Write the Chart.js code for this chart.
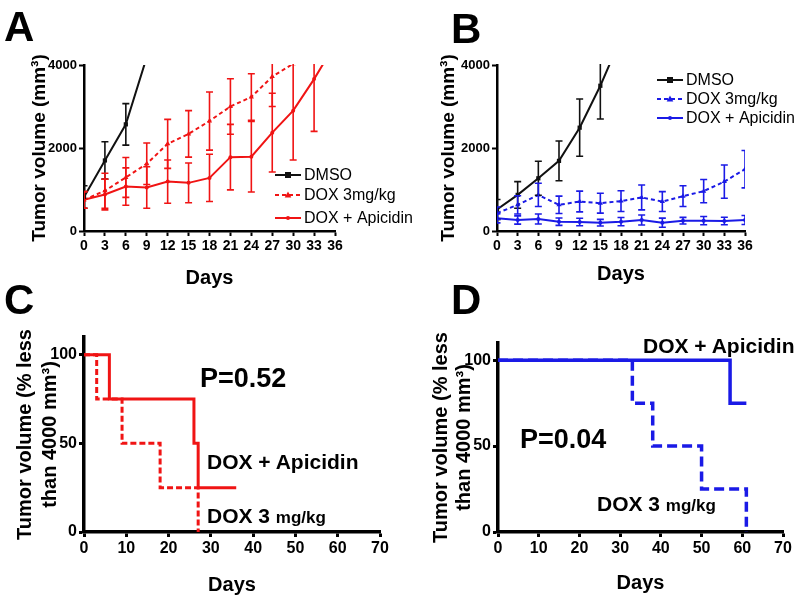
<!DOCTYPE html>
<html>
<head>
<meta charset="utf-8">
<script src="https://cdn.jsdelivr.net/npm/chart.js@4.4.1/dist/chart.umd.min.js"></script>
<style>
  html, body { margin: 0; padding: 0; background: #fff; }
  #wrap { position: relative; width: 800px; height: 599px; overflow: hidden; font-family: "Liberation Sans", Arial, sans-serif; }
  canvas { position: absolute; }
  .lbl { position: absolute; font-weight: bold; color: #000; white-space: nowrap; line-height: 1; }
  .letter { font-size: 42px; }
</style>
</head>
<body>
<div id="wrap">
  <canvas id="cA" width="420" height="260" style="left:0px;top:45px"></canvas>
  <canvas id="cB" width="390" height="260" style="left:410px;top:45px"></canvas>
  <canvas id="cC" width="420" height="299" style="left:0px;top:300px"></canvas>
  <canvas id="cD" width="390" height="299" style="left:410px;top:300px"></canvas>

  <div class="lbl letter" style="left:4px;top:6px">A</div>
  <div class="lbl letter" style="left:451px;top:8px">B</div>
  <div class="lbl letter" style="left:4px;top:279px">C</div>
  <div class="lbl letter" style="left:451px;top:279px">D</div>

  <div class="lbl" style="left:200px;top:365px;font-size:27px">P=0.52</div>
  <div class="lbl" style="left:207px;top:451px;font-size:21px">DOX + Apicidin</div>
  <div class="lbl" style="left:207px;top:505px;font-size:21px">DOX 3 <span style="font-size:17px">mg/kg</span></div>

  <div class="lbl" style="left:643px;top:335px;font-size:21px">DOX + Apicidin</div>
  <div class="lbl" style="left:520px;top:426px;font-size:27px">P=0.04</div>
  <div class="lbl" style="left:597px;top:493px;font-size:21px">DOX 3 <span style="font-size:17px">mg/kg</span></div>
</div>
<script>
// ---------------- data ----------------
const days = [0, 3, 6, 9, 12, 15, 18, 21, 24, 27, 30, 33, 36];

// Panel A (mean tumor volume, mm3) and SEM
const dmsoA      = [820, 1700, 2570, 4190, null, null, null, null, null, null, null, null, null];
const dmsoAErr   = [270, 450, 500, 0, 0, 0, 0, 0, 0, 0, 0, 0, 0];
const doxA       = [750, 970, 1290, 1620, 2100, 2340, 2650, 3000, 3230, 3720, 4030, null, null];
const doxAErr    = [200, 420, 480, 500, 590, 560, 700, 670, 560, 720, 0, 0, 0];
const apiA       = [750, 880, 1070, 1050, 1190, 1160, 1280, 1780, 1790, 2370, 2900, 3660, 4500];
const apiAErr    = [200, 370, 450, 500, 520, 480, 570, 790, 850, 950, 1190, 1260, 0];

// Panel B
const dmsoB      = [520, 870, 1270, 1690, 2490, 3500, 4650, null, null, null, null, null, null];
const dmsoBErr   = [240, 320, 410, 480, 690, 800, 0, 0, 0, 0, 0, 0, 0];
const doxB       = [430, 630, 870, 630, 710, 670, 720, 810, 710, 840, 960, 1190, 1490];
const doxBErr    = [150, 220, 280, 210, 250, 240, 250, 300, 240, 250, 280, 400, 450];
const apiB       = [305, 265, 290, 225, 217, 201, 225, 265, 201, 249, 249, 241, 265];
const apiBErr    = [110, 100, 120, 90, 90, 80, 100, 120, 110, 80, 100, 90, 110];

// Panel C (% tumors < 4000 mm3)
const apiCDays = [0, 6, 26, 27, 36];
const apiCPct  = [100, 75, 50, 25, 25];
const doxCDays = [0, 3, 9, 18, 27];
const doxCPct  = [100, 75, 50, 25, 0];

// Panel D
const apiDDays = [0, 57, 61];
const apiDPct  = [100, 75, 75];
const doxDDays = [0, 33, 38, 50, 61];
const doxDPct  = [100, 75, 50, 25, 0];

const labels = ['DMSO', 'DOX 3mg/kg', 'DOX + Apicidin'];

// ---------------- helpers ----------------
const F = '"Liberation Sans", Arial, sans-serif';
const RED = '#f01414';
const BLUE = '#1a1ae6';
const BLACK = '#111111';

function pts(xs, ys, es) {
  const out = [];
  xs.forEach((d, i) => {
    if (ys[i] === null || ys[i] === undefined) return;
    out.push({ x: d, y: ys[i], e: es ? es[i] : 0 });
  });
  return out;
}

const errorBars = {
  id: 'errorBars',
  afterDatasetsDraw(chart) {
    const { ctx, chartArea: a, scales } = chart;
    const x = scales.x, y = scales.y;
    ctx.save();
    ctx.beginPath();
    ctx.rect(a.left, a.top - 1, a.right - a.left, a.bottom - a.top + 2);
    ctx.clip();
    chart.data.datasets.forEach((ds) => {
      if (!ds.showErr) return;
      ctx.strokeStyle = ds.borderColor;
      ctx.lineWidth = 1.6;
      ctx.setLineDash([]);
      ds.data.forEach((p) => {
        if (!p.e) return;
        const px = x.getPixelForValue(p.x);
        const hi = y.getPixelForValue(p.y + p.e);
        const lo = y.getPixelForValue(p.y - p.e);
        const c = 3.5;
        ctx.beginPath();
        ctx.moveTo(px, hi); ctx.lineTo(px, lo);
        ctx.moveTo(px - c, hi); ctx.lineTo(px + c, hi);
        ctx.moveTo(px - c, lo); ctx.lineTo(px + c, lo);
        ctx.stroke();
      });
    });
    ctx.restore();
  }
};

function marker(ctx, style, cx, cy, r, color) {
  ctx.save();
  ctx.fillStyle = color;
  ctx.strokeStyle = color;
  ctx.setLineDash([]);
  ctx.beginPath();
  if (style === 'rect') {
    ctx.rect(cx - r, cy - r, 2 * r, 2 * r);
  } else if (style === 'triangle') {
    ctx.moveTo(cx, cy - r * 1.2);
    ctx.lineTo(cx + r * 1.1, cy + r * 0.8);
    ctx.lineTo(cx - r * 1.1, cy + r * 0.8);
    ctx.closePath();
  } else {
    ctx.arc(cx, cy, r, 0, Math.PI * 2);
  }
  ctx.fill();
  ctx.restore();
}

const inLegend = {
  id: 'inLegend',
  afterDraw(chart, args, opts) {
    if (!opts || !opts.rows) return;
    const ctx = chart.ctx;
    chart.data.datasets.forEach((ds, i) => {
      const yy = opts.rows[i];
      ctx.save();
      ctx.strokeStyle = ds.borderColor;
      ctx.lineWidth = 2;
      ctx.setLineDash(ds.borderDash || []);
      ctx.beginPath();
      ctx.moveTo(opts.x, yy);
      ctx.lineTo(opts.x + opts.len, yy);
      ctx.stroke();
      ctx.restore();
      marker(ctx, ds.pointStyle, opts.x + opts.len / 2, yy, ds.pointRadius, ds.borderColor);
      ctx.save();
      ctx.fillStyle = '#000';
      ctx.font = '16px ' + F;
      ctx.textBaseline = 'middle';
      ctx.textAlign = 'left';
      ctx.fillText(ds.label, opts.x + opts.len + 3, yy + 1);
      ctx.restore();
    });
  }
};

Chart.register(errorBars, inLegend);

function growthDataset(label, ys, es, color, dash, style, radius) {
  return {
    label, data: pts(days, ys, es), showErr: true,
    borderColor: color, backgroundColor: color, borderWidth: 2,
    borderDash: dash, pointStyle: style, pointRadius: radius,
    pointBorderWidth: 0, pointBackgroundColor: color, tension: 0
  };
}

function axisCommon(tickSize, borderW, tickW) {
  return {
    ticks: { color: '#000', font: { family: F, size: tickSize, weight: 'bold' }, padding: 2, callback: (v) => String(v) },
    grid: { drawOnChartArea: false, drawTicks: true, tickLength: 5, tickWidth: tickW, tickColor: '#000', color: '#000' },
    border: { display: true, color: '#000', width: borderW }
  };
}

function growthOptions(yTitlePad, xTitlePad, yWidth, rightPad, legend) {
  const xa = axisCommon(14, 2.5, 2);
  const ya = axisCommon(13, 2.5, 2);
  return {
    responsive: false, animation: false, devicePixelRatio: 1,
    layout: { padding: { top: 20, right: rightPad, left: 0, bottom: 0 } },
    plugins: { legend: { display: false }, tooltip: { enabled: false }, inLegend: legend },
    scales: {
      x: Object.assign(xa, {
        type: 'linear', min: 0, max: 36,
        ticks: Object.assign(xa.ticks, { stepSize: 3, maxRotation: 0, autoSkip: false }),
        title: { display: true, text: 'Days', color: '#000', font: { family: F, size: 20, weight: 'bold' }, padding: { top: 0, bottom: xTitlePad } },
        afterFit: (s) => { s.height = 74; }
      }),
      y: Object.assign(ya, {
        min: 0, max: 4000,
        ticks: Object.assign(ya.ticks, { stepSize: 2000 }),
        title: { display: true, text: 'Tumor volume (mm³)', color: '#000', font: { family: F, size: 19, weight: 'bold' }, padding: { top: yTitlePad, bottom: 0 } },
        afterFit: (s) => { s.width = yWidth; }
      })
    }
  };
}

// ---------------- Panel A ----------------
new Chart(document.getElementById('cA'), {
  type: 'line',
  data: { datasets: [
    growthDataset(labels[0], dmsoA, dmsoAErr, BLACK, [], 'rect', 3),
    growthDataset(labels[1], doxA, doxAErr, RED, [4, 3], 'triangle', 3),
    growthDataset(labels[2], apiA, apiAErr, RED, [], 'circle', 2)
  ] },
  options: growthOptions(28, 15, 84, 85, { x: 275, len: 26, rows: [130, 150, 173] })
});

// ---------------- Panel B ----------------
new Chart(document.getElementById('cB'), {
  type: 'line',
  data: { datasets: [
    growthDataset(labels[0], dmsoB, dmsoBErr, BLACK, [], 'rect', 3),
    growthDataset(labels[1], doxB, doxBErr, BLUE, [4, 3], 'triangle', 3),
    growthDataset(labels[2], apiB, apiBErr, BLUE, [], 'circle', 2)
  ] },
  options: growthOptions(27, 19, 87, 55, { x: 247, len: 26, rows: [35, 54, 73] })
});

// ---------------- Survival panels ----------------
function survDataset(label, xs, ys, color, dash, width) {
  return {
    label, data: pts(xs, ys, null), stepped: 'before',
    borderColor: color, borderWidth: width, borderDash: dash,
    pointRadius: 0, fill: false
  };
}

function survOptions(yTitlePad, yLineH, xTitlePad, yWidth, topPad, rightPad) {
  const xa = axisCommon(16, 3.5, 3);
  const ya = axisCommon(16, 3.5, 3);
  return {
    responsive: false, animation: false, devicePixelRatio: 1,
    layout: { padding: { top: topPad, right: rightPad, left: 0, bottom: 0 } },
    plugins: { legend: { display: false }, tooltip: { enabled: false } },
    scales: {
      x: Object.assign(xa, {
        type: 'linear', min: 0, max: 70,
        ticks: Object.assign(xa.ticks, { stepSize: 10, maxRotation: 0, autoSkip: false }),
        title: { display: true, text: 'Days', color: '#000', font: { family: F, size: 20, weight: 'bold' }, padding: { top: 0, bottom: xTitlePad } },
        afterFit: (s) => { s.height = 67; }
      }),
      y: Object.assign(ya, {
        min: 0, max: 110,
        ticks: Object.assign(ya.ticks, { stepSize: 50, includeBounds: false }),
        title: { display: true, text: ['Tumor volume (% less', 'than 4000 mm³)'], color: '#000', font: { family: F, size: 20, weight: 'bold', lineHeight: yLineH }, padding: { top: yTitlePad, bottom: 0 } },
        afterFit: (s) => { s.width = yWidth; }
      })
    }
  };
}

new Chart(document.getElementById('cC'), {
  type: 'line',
  data: { datasets: [
    survDataset('DOX 3 mg/kg', doxCDays, doxCPct, RED, [6, 3], 3),
    survDataset('DOX + Apicidin', apiCDays, apiCPct, RED, [], 3)
  ] },
  options: survOptions(12.5, 1.25, 2, 84, 37, 40)
});

new Chart(document.getElementById('cD'), {
  type: 'line',
  data: { datasets: [
    survDataset('DOX 3 mg/kg', doxDDays, doxDPct, BLUE, [10, 5], 3.5),
    survDataset('DOX + Apicidin', apiDDays, apiDPct, BLUE, [], 3.5)
  ] },
  options: survOptions(19.5, 1.15, 4, 88, 43, 17)
});
</script>
</body>
</html>
